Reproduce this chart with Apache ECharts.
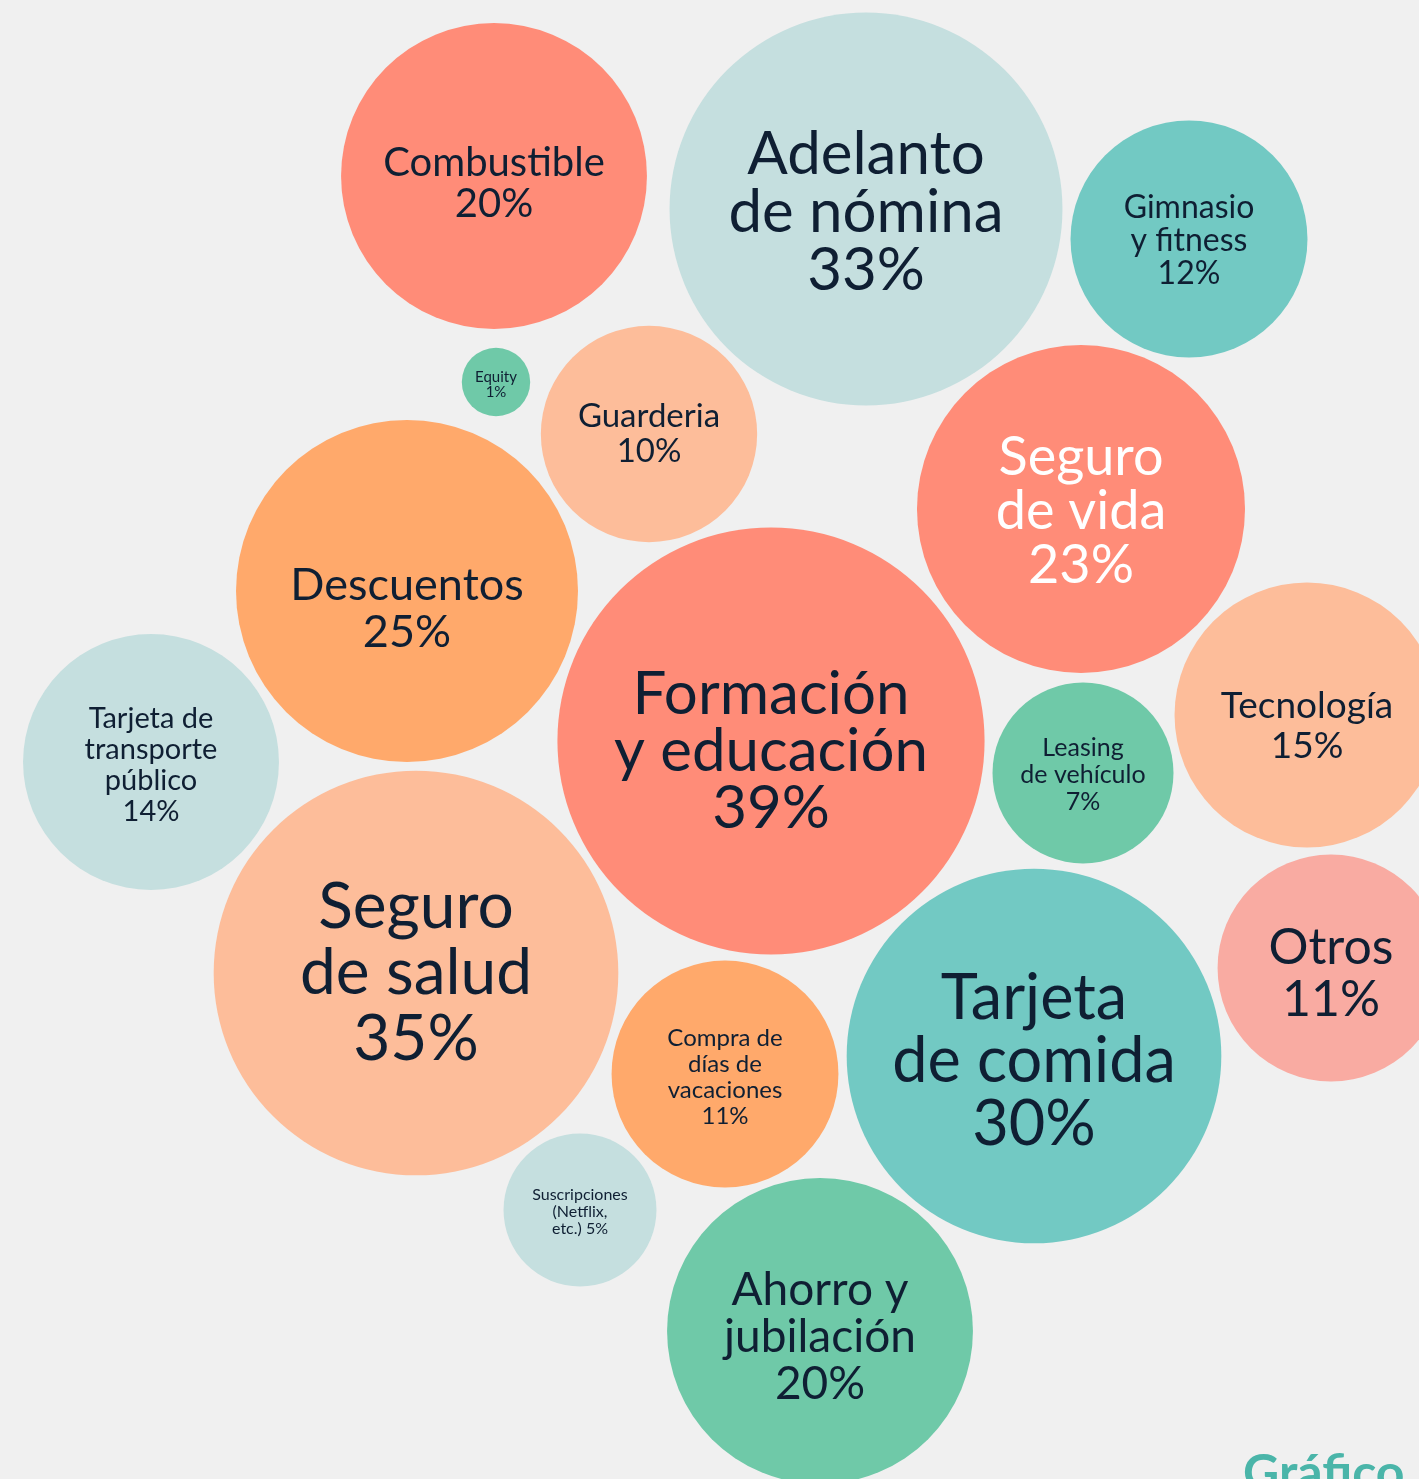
<!DOCTYPE html>
<html>
<head>
<meta charset="utf-8">
<script src="https://cdn.jsdelivr.net/npm/echarts@6/dist/echarts.min.js"></script>
<style>
  html, body { margin: 0; padding: 0; background: #f0f0f0; }
  #chart { width: 1419px; height: 1479px; }
</style>
</head>
<body>
<div id="chart"></div>
<script>
// beneficios mas valorados (porcentaje)
var names = [
  'Combustible', 'Adelanto\nde nómina', 'Gimnasio\ny fitness', 'Equity', 'Guarderia',
  'Seguro\nde vida', 'Descuentos', 'Formación\ny educación', 'Tarjeta de\ntransporte\npúblico',
  'Leasing\nde vehículo', 'Tecnología', 'Seguro\nde salud', 'Otros', 'Tarjeta\nde comida',
  'Compra de\ndías de\nvacaciones', 'Suscripciones\n(Netflix,\netc.)', 'Ahorro y\njubilación'
];
var values = [20, 33, 12, 1, 10, 23, 25, 39, 14, 7, 15, 35, 11, 30, 11, 5, 20];
// bubble centres, in axis units
var posX = [494, 866, 1189, 496, 649, 1081, 407, 771, 151, 1083, 1307, 416, 1331, 1034, 725, 580, 820];
var posY = [176, 209, 239, 382, 434, 509, 591, 741, 762, 773, 715, 973, 968, 1056, 1074, 1210, 1331];

// styles
var colors = ['#ff8c78', '#c5dfdf', '#72c9c3', '#6fc9a8', '#fdbd9a', '#ff8c78', '#ffa96b', '#ff8c78',
  '#c5dfdf', '#6fc9a8', '#fdbd9a', '#fdbd9a', '#f9aba2', '#72c9c3', '#ffa96b', '#c5dfdf', '#6fc9a8'];
var fontSizes = [40, 60, 32, 15, 33, 54, 45, 60, 29, 25, 37, 64, 50, 63, 24, 16, 46];
var lineHeights = [41, 58, 33, 15, 35, 54, 47, 57, 31, 27, 40, 66, 52, 63, 26, 17, 47];
var labelShiftY = [8, 4, 2, 3, 0, 3, 18, 11, 3, 2, 11, 0, 6, 6, 3, 2, 6];
var textColors = ['#0f1f33', '#0f1f33', '#0f1f33', '#0f1f33', '#0f1f33', '#ffffff', '#0f1f33', '#0f1f33',
  '#0f1f33', '#0f1f33', '#0f1f33', '#0f1f33', '#0f1f33', '#0f1f33', '#0f1f33', '#0f1f33', '#0f1f33'];
var valueSep = ['\n', '\n', '\n', '\n', '\n', '\n', '\n', '\n', '\n', '\n', '\n', '\n', '\n', '\n', '\n', ' ', '\n'];

var sizeScale = 68.4; // diameter per sqrt(%)

var seriesData = names.map(function (n, i) {
  return {
    name: n,
    value: [posX[i], posY[i], values[i]],
    symbolSize: sizeScale * Math.sqrt(values[i]),
    itemStyle: { color: colors[i], opacity: 1 },
    label: {
      fontSize: fontSizes[i],
      lineHeight: lineHeights[i],
      color: textColors[i],
      offset: [0, labelShiftY[i]],
      formatter: n + valueSep[i] + values[i] + '%'
    }
  };
});

var chart = echarts.init(document.getElementById('chart'));
chart.setOption({
  backgroundColor: '#f0f0f0',
  animation: false,
  grid: { left: 0, right: 0, top: 0, bottom: 0 },
  xAxis: { type: 'value', min: 0, max: 1419, show: false },
  yAxis: { type: 'value', min: 0, max: 1479, inverse: true, show: false },
  series: [{
    type: 'scatter',
    symbol: 'circle',
    data: seriesData,
    itemStyle: { opacity: 1 },
    label: {
      show: true,
      position: 'inside',
      align: 'center',
      verticalAlign: 'middle',
      fontFamily: 'Lato',
      fontWeight: 'normal',
      opacity: 1
    },
    emphasis: { disabled: true }
  }],
  graphic: [{
    type: 'text',
    left: 1243,
    top: 1449,
    style: {
      text: 'Gráfico',
      fill: '#4ab5a9',
      font: 'bold 50px Lato'
    }
  }]
});
</script>
</body>
</html>
